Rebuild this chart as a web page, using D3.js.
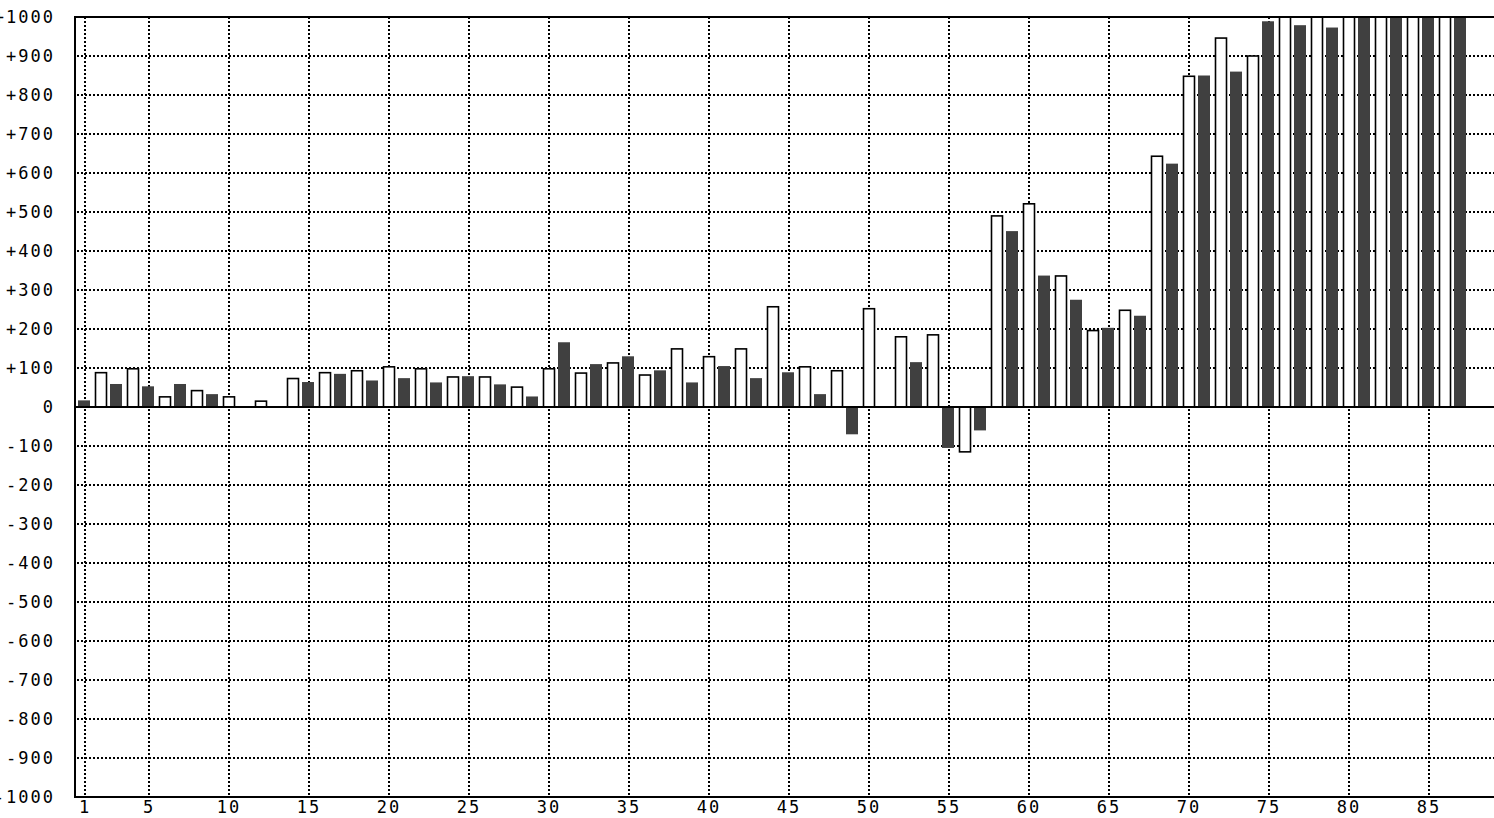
<!DOCTYPE html>
<html>
<head>
<meta charset="utf-8">
<script src="https://cdn.jsdelivr.net/npm/d3@7/dist/d3.min.js"></script>
<style>
  html, body { margin: 0; padding: 0; background: #fff; overflow: hidden; }
  svg { display: block; }
  text { font-family: "DejaVu Sans Mono", monospace; font-size: 17px; fill: #000; letter-spacing: 2px; }
</style>
</head>
<body>
<svg id="chart" width="1494" height="818"></svg>
<script>
// ---- data ----
const categories = [
  1, 2, 3, 4, 5, 6, 7, 8, 9, 10, 11, 12, 13, 14, 15, 16, 17, 18, 19, 20,
  21, 22, 23, 24, 25, 26, 27, 28, 29, 30, 31, 32, 33, 34, 35, 36, 37, 38, 39, 40,
  41, 42, 43, 44, 45, 46, 47, 48, 49, 50, 51, 52, 53, 54, 55, 56, 57, 58, 59, 60,
  61, 62, 63, 64, 65, 66, 67, 68, 69, 70, 71, 72, 73, 74, 75, 76, 77, 78, 79, 80,
  81, 82, 83, 84, 85, 86, 87
];
const values = [
  17, 88, 59, 98, 53, 26, 59, 42, 33, 26, 0, 15, 0, 73, 64, 88, 85, 93, 68, 103,
  74, 98, 63, 77, 79, 77, 58, 51, 27, 98, 166, 87, 110, 113, 130, 82, 94, 149, 63, 129,
  105, 149, 74, 257, 89, 103, 33, 93, -70, 252, 0, 180, 115, 185, -105, -115, -60, 490, 451, 521,
  337, 336, 275, 196, 203, 248, 234, 643, 624, 848, 850, 946, 860, 900, 989, 1000, 979, 1000, 973, 1000,
  1000, 1000, 1000, 1000, 1000, 1000, 1000
];
const yTicks = [1000, 900, 800, 700, 600, 500, 400, 300, 200, 100, 0,
  -100, -200, -300, -400, -500, -600, -700, -800, -900, -1000];
const xTickLabels = [1, 5, 10, 15, 20, 25, 30, 35, 40, 45, 50, 55, 60, 65, 70, 75, 80, 85];

// ---- layout ----
const svg = d3.select("#chart");
const pL = 75, pR = 1494, pT = 17, pB = 797;
const x = d3.scaleLinear().domain([1, 85]).range([85, 1429]);
const y = d3.scaleLinear().domain([-1000, 1000]).range([pB, pT]);

svg.append("defs").append("clipPath").attr("id", "plotClip")
  .append("rect").attr("x", pL).attr("y", pT).attr("width", pR - pL).attr("height", pB - pT);

// grid
const grid = svg.append("g").attr("stroke", "#000").attr("stroke-width", 2).attr("stroke-dasharray", "2,2");
grid.selectAll("line.h").data(yTicks).join("line")
  .attr("x1", pL + 2).attr("x2", pR)
  .attr("y1", d => y(d)).attr("y2", d => y(d));
grid.selectAll("line.v").data(xTickLabels).join("line")
  .attr("x1", d => x(d)).attr("x2", d => x(d))
  .attr("y1", pT).attr("y2", pB);

// bars
const barsG = svg.append("g").attr("clip-path", "url(#plotClip)");
const data = categories.map((c, i) => ({ c, v: values[i] }));
barsG.selectAll("rect.dark").data(data.filter(d => d.c % 2 === 1 && d.v !== 0)).join("rect")
  .attr("x", d => x(d.c) - 7).attr("width", 12)
  .attr("y", d => y(Math.max(0, d.v))).attr("height", d => Math.abs(y(d.v) - y(0)))
  .attr("fill", "#404040");
barsG.selectAll("rect.white").data(data.filter(d => d.c % 2 === 0 && d.v !== 0)).join("rect")
  .attr("x", d => x(d.c) - 5.5).attr("width", 11)
  .attr("y", d => y(Math.max(0, d.v))).attr("height", d => Math.abs(y(d.v) - y(0)))
  .attr("fill", "#fff").attr("stroke", "#000").attr("stroke-width", 1.6);

// frame + zero line
const frame = svg.append("g").attr("stroke", "#000").attr("stroke-width", 2);
frame.append("line").attr("x1", pL).attr("x2", pR).attr("y1", pT).attr("y2", pT);
frame.append("line").attr("x1", pL).attr("x2", pR).attr("y1", pB).attr("y2", pB);
frame.append("line").attr("x1", pL).attr("x2", pL).attr("y1", pT - 1).attr("y2", pB + 1);
frame.append("line").attr("x1", pL).attr("x2", pR).attr("y1", y(0)).attr("y2", y(0));

// y labels
const fmt = d => d > 0 ? "+" + d : String(d);
svg.append("g").selectAll("text").data(yTicks).join("text")
  .attr("x", 55).attr("y", d => y(d))
  .attr("text-anchor", "end").attr("dominant-baseline", "central")
  .text(fmt);

// x labels
svg.append("g").selectAll("text").data(xTickLabels).join("text")
  .attr("x", d => x(d)).attr("y", 813)
  .attr("text-anchor", "middle")
  .text(d => d);
</script>
</body>
</html>
